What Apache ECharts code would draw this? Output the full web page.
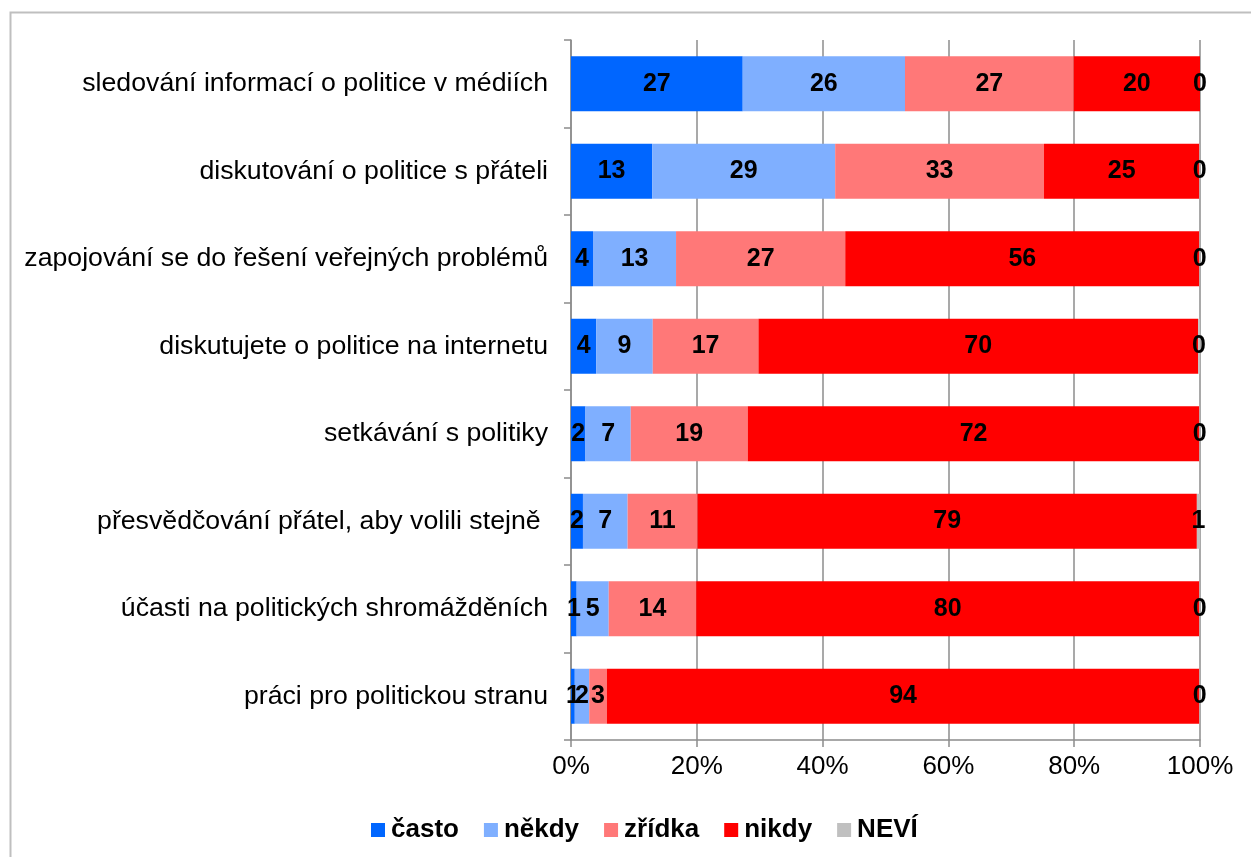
<!DOCTYPE html>
<html>
<head>
<meta charset="utf-8">
<script src="https://cdn.jsdelivr.net/npm/echarts@6/dist/echarts.min.js"></script>
<style>html,body{margin:0;padding:0;background:#fff}#c{width:1251px;height:857px}</style>
</head>
<body>
<div id="c"></div>
<script>
const categories = [
  'sledování informací o politice v médiích',
  'diskutování o politice s přáteli',
  'zapojování se do řešení veřejných problémů',
  'diskutujete o politice na internetu',
  'setkávání s politiky',
  'přesvědčování přátel, aby volili stejně ',
  'účasti na politických shromážděních',
  'práci pro politickou stranu'
];
const seriesNames = ['často', 'někdy', 'zřídka', 'nikdy', 'NEVÍ'];
const casto  = [27.3, 12.9, 3.5, 4.0, 2.3, 1.9, 0.9, 0.6];
const nekdy  = [25.8, 29.1, 13.2, 9.0, 7.2, 7.1, 5.1, 2.3];
const zridka = [26.8, 33.2, 26.9, 16.8, 18.6, 11.1, 13.9, 2.8];
const nikdy  = [20.1, 24.7, 56.3, 69.9, 71.8, 79.4, 80.0, 94.2];
const nevi   = [0.0, 0.1, 0.1, 0.3, 0.1, 0.5, 0.1, 0.1];
const xTicks = [0, 20, 40, 60, 80, 100];

const colors = ['#0066FF', '#7FAFFF', '#FF7878', '#FF0000', '#C0C0C0'];
const values = [casto, nekdy, zridka, nikdy, nevi];
const FONT = '"Liberation Sans", Arial, sans-serif';

const chart = echarts.init(document.getElementById('c'), null, {renderer: 'canvas'});
chart.setOption({
  animation: false,
  backgroundColor: '#fff',
  graphic: [{
    type: 'rect', left: 8, top: 10, silent: true,
    shape: {width: 1300, height: 900},
    style: {fill: 'none', stroke: '#BFBFBF', lineWidth: 2}
  }],
  grid: {left: 571, right: 51, top: 40, bottom: 117, containLabel: false},
  legend: {
    data: seriesNames,
    left: 366, top: 812,
    icon: 'rect', itemWidth: 14, itemHeight: 14, itemGap: 25,
    textStyle: {fontFamily: FONT, fontSize: 26, fontWeight: 'bold', color: '#000', padding: [0, 0, 0, 1]}
  },
  xAxis: {
    type: 'value', min: xTicks[0], max: xTicks[xTicks.length - 1], interval: 20,
    axisLine: {show: true, lineStyle: {color: '#8C8C8C', width: 1.5}},
    axisTick: {show: true, length: 7, lineStyle: {color: '#8C8C8C', width: 1.5}},
    splitLine: {show: true, lineStyle: {color: '#8C8C8C', width: 1.5}},
    axisLabel: {formatter: '{value}%', fontFamily: FONT, fontSize: 26, color: '#000', margin: 14}
  },
  yAxis: {
    type: 'category', data: categories, inverse: true,
    axisLine: {show: true, lineStyle: {color: '#8C8C8C', width: 1.5}},
    axisTick: {show: true, length: 7, lineStyle: {color: '#8C8C8C', width: 1.5}},
    axisLabel: {fontFamily: FONT, fontSize: 26.7, color: '#000', margin: 23}
  },
  series: seriesNames.map((name, i) => ({
    name: name, type: 'bar', stack: 'total', barWidth: 55,
    itemStyle: {color: colors[i]},
    label: {
      show: true, position: 'inside', color: '#000',
      fontFamily: FONT, fontSize: 25, fontWeight: 'bold',
      formatter: p => String(Math.round(p.value))
    },
    data: values[i]
  }))
});
</script>
</body>
</html>
